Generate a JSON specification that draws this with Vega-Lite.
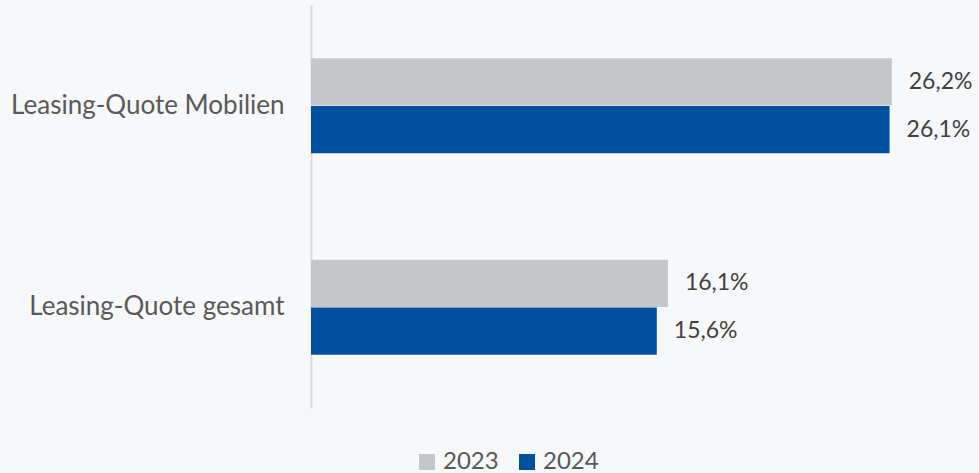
{
  "$schema": "https://vega.github.io/schema/vega-lite/v6.json",
  "autosize": "none",
  "padding": {"left": 311, "top": 5, "right": 3, "bottom": 65},
  "width": 665,
  "height": 403,
  "background": "#f7f8fa",
  "config": {"view": {"stroke": null}, "font": "Lato"},
  "data": {"values": [
    {"category": "Leasing-Quote Mobilien", "year": "2023", "value": 26.2, "label": "26,2%"},
    {"category": "Leasing-Quote Mobilien", "year": "2024", "value": 26.1, "label": "26,1%"},
    {"category": "Leasing-Quote gesamt", "year": "2023", "value": 16.1, "label": "16,1%"},
    {"category": "Leasing-Quote gesamt", "year": "2024", "value": 15.6, "label": "15,6%"}
  ]},
  "encoding": {
    "y": {"field": "category", "type": "nominal", "sort": null, "title": null,
      "scale": {"paddingInner": 0.5285, "paddingOuter": 0.264},
      "axis": {"ticks": false, "domainColor": "#d9d9d9", "domainWidth": 2, "labelFontSize": 26, "labelColor": "#595959", "labelPadding": 27, "labelFont": "Lato", "labelLimit": 320}},
    "yOffset": {"field": "year", "type": "nominal", "scale": {"paddingInner": 0.01}},
    "x": {"field": "value", "type": "quantitative", "scale": {"domain": [0, 30]}, "axis": null}
  },
  "layer": [
    {"mark": {"type": "bar"},
     "encoding": {"color": {"field": "year", "type": "nominal", "title": null,
       "scale": {"domain": ["2023", "2024"], "range": ["#c4c6c8", "#0050a0"]},
       "legend": {"orient": "none", "direction": "horizontal", "legendX": 104, "legendY": 445, "symbolType": "square", "symbolSize": 256, "symbolStrokeWidth": 0, "symbolOpacity": 1, "labelFontSize": 24, "labelColor": "#595959", "labelFont": "Lato", "columnPadding": 16, "labelOffset": 4}}}},
    {"mark": {"type": "text", "align": "left", "baseline": "middle", "dx": 17, "fontSize": 23, "color": "#404040", "font": "Lato"},
     "encoding": {"text": {"field": "label"}}}
  ]
}
